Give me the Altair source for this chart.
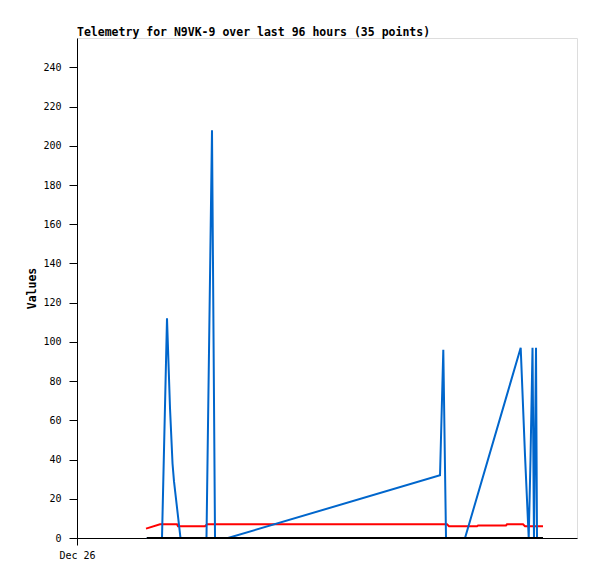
import altair as alt
import pandas as pd

# Hours since Dec 26 00:00 (axis spans 96 hours)
blue_hours = [13.4, 16.32, 17.28, 17.86, 18.34, 18.62, 19.87, 24.86, 25.92, 26.50, 28.99,
              69.70, 70.33, 70.85, 74.50, 85.19, 86.02, 86.73, 87.07, 87.46,
              87.74, 88.13, 88.32, 89.47]
blue_values = [0, 0, 112, 66, 38, 29, 0, 0, 208, 0, 0,
               32, 96, 0, 0, 97, 42, 0, 40, 97,
               0, 97, 0, 0]

red_hours = [13.25, 15.94, 19.20, 19.39, 24.58, 24.96, 71.04, 71.42, 76.80,
             77.00, 82.37, 82.56, 85.63, 86.02, 89.47]
red_values = [4.8, 7, 7, 6, 6, 7, 7, 6, 6,
              6.4, 6.4, 7, 7, 6, 6]

black_hours = [13.4, 89.47]
black_values = [0, 0]

y_ticks = list(range(0, 241, 20))

FONT = "DejaVu Sans Mono"

def series(hours, values, name):
    return pd.DataFrame({"hours": hours, "value": values, "series": name})

x_enc = alt.X(
    "hours:Q",
    scale=alt.Scale(domain=[0, 96], nice=False, zero=False),
    axis=alt.Axis(values=[0], labelExpr="'Dec 26'", title=None, grid=False,
                  tickSize=7, labelPadding=5, domainColor="black",
                  tickColor="black", labelFont=FONT, labelFontSize=10,
                  labelColor="black", labelAlign="center"),
)
y_enc = alt.Y(
    "value:Q",
    scale=alt.Scale(domain=[0, 255], nice=False, zero=True),
    axis=alt.Axis(values=y_ticks, title="Values", grid=False, tickSize=8,
                  labelPadding=8, domainColor="black", tickColor="black",
                  labelFont=FONT, labelFontSize=10, labelColor="black",
                  titleFont=FONT, titleFontSize=11.5, titleFontWeight="bold",
                  titleColor="black", titlePadding=5),
)

def line(df, color):
    return alt.Chart(df).mark_line(color=color, strokeWidth=2, interpolate="linear").encode(
        x=x_enc, y=y_enc
    )

chart = alt.layer(
    line(series(red_hours, red_values, "red"), "#FF0000"),
    line(series(blue_hours, blue_values, "blue"), "#0066CC"),
    line(series(black_hours, black_values, "black"), "#000000"),
).properties(
    width=500,
    height=500,
    title=alt.TitleParams(
        "Telemetry for N9VK-9 over last 96 hours (35 points)",
        anchor="start", frame="group", font=FONT, fontSize=11.5,
        fontWeight="bold", color="black", offset=4, baseline="alphabetic",
        dy=13,
    ),
    autosize=alt.AutoSizeParams(type="none"),
    padding={"left": 69, "top": 30, "right": 12, "bottom": 33},
).configure_view(
    stroke="#555555", strokeWidth=1
).configure(background="white")

chart.save("out.html", embed_options={"renderer": "svg", "actions": False})
